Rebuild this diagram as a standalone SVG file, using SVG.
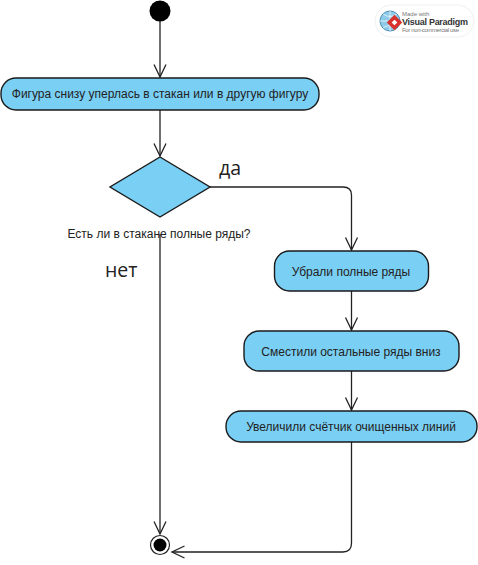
<svg xmlns="http://www.w3.org/2000/svg" width="478" height="565" viewBox="0 0 478 565">
<style>
.act{fill:#7acff5;stroke:#1a1a1a;stroke-width:1.4}
.lbl{font-family:"Liberation Sans",Arial,sans-serif;font-size:12px;fill:#222;text-anchor:middle}
.big{font-family:"Open Sans",sans-serif;font-size:19.500px;fill:#222}
.con{fill:none;stroke:#222;stroke-width:1.3}
.head{fill:none;stroke:#222;stroke-width:1.300}
</style>
<defs>
<marker id="arr" markerUnits="userSpaceOnUse" markerWidth="16" markerHeight="16" viewBox="0 0 16 16" refX="14" refY="8" orient="auto">
<path class="head" d="M1.500 2 L14 8 L1.500 14"/>
</marker>
</defs>
<rect width="478" height="565" fill="#fff"/>
<g id="connectors">
<path class="con" marker-end="url(#arr)" d="M160 21V77"/>
<path class="con" marker-end="url(#arr)" d="M160 110V156"/>
<path class="con" marker-end="url(#arr)" d="M210 187H343Q351.500 187 351.500 195V250"/>
<path class="con" marker-end="url(#arr)" d="M160 234V534"/>
<path class="con" marker-end="url(#arr)" d="M351.500 291V330"/>
<path class="con" marker-end="url(#arr)" d="M351.500 371V410"/>
<path class="con" marker-end="url(#arr)" d="M351.500 442V543Q351.500 552 343 552H172"/>
</g>
<g id="start"><circle cx="160" cy="11" r="10.500" fill="#000"/></g>
<g id="action1"><rect class="act" x="1" y="78" width="318" height="32" rx="15" ry="15"/>
<text class="lbl" x="160" y="98">Фигура снизу уперлась в стакан или в другую фигуру</text></g>
<g id="decision"><polygon class="act" points="160,157 210,187 160,217 110,187"/>
<text class="lbl" x="159" y="238">Есть ли в стакане полные ряды?</text></g>
<g id="action2"><rect class="act" x="274.500" y="251" width="154" height="40" rx="15" ry="15"/>
<text class="lbl" x="351" y="276">Убрали полные ряды</text></g>
<g id="action3"><rect class="act" x="244" y="331" width="215" height="40" rx="15" ry="15"/>
<text class="lbl" x="351" y="356">Сместили остальные ряды вниз</text></g>
<g id="action4"><rect class="act" x="226" y="411" width="251" height="31" rx="15" ry="15"/>
<text class="lbl" x="351" y="431">Увеличили счётчик очищенных линий</text></g>
<g id="end"><circle cx="160" cy="545" r="9.500" fill="#fff" stroke="#222" stroke-width="1.200"/><circle cx="160" cy="545" r="6.500" fill="#000"/></g>
<text class="big" x="219" y="175">да</text>
<text class="big" x="105" y="277">нет</text>
<g id="badge">
<rect x="375" y="5" width="99" height="32" rx="16" fill="#fff" stroke="#f0f0f0" stroke-width="1"/>
<circle cx="390" cy="21" r="10" fill="#8fcbe8" stroke="#4a90b8" stroke-width="1"/>
<path d="M380 21H400M390 11V31M383 14Q390 19 397 14M383 28Q390 23 397 28" fill="none" stroke="#fff" stroke-width=".7"/>
<rect x="389" y="17" width="11" height="11" fill="#d8322f" transform="rotate(45 394.500 22.500)"/>
<rect x="392.500" y="20.500" width="4" height="4" fill="#fff" transform="rotate(45 394.500 22.500)"/>
<g font-family="'Liberation Sans',Arial,sans-serif">
<text x="402" y="16" font-size="6" fill="#777">Made with</text>
<text x="402" y="25" font-size="9" font-weight="bold" fill="#333" textLength="66">Visual Paradigm</text>
<text x="402" y="32" font-size="6" fill="#777" textLength="57">For non-commercial use</text>
</g>
</g>
</svg>
